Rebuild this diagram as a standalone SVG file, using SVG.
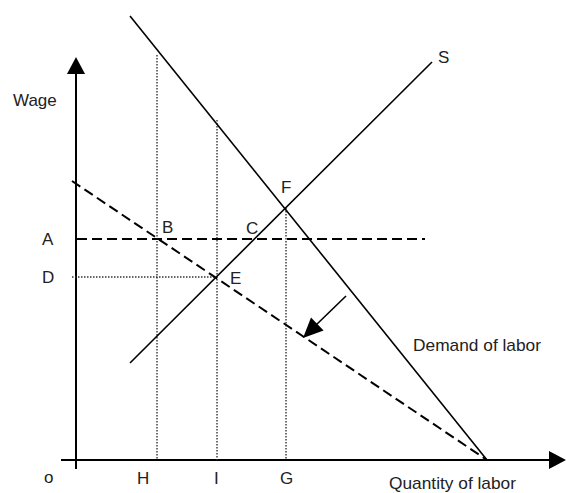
<svg xmlns="http://www.w3.org/2000/svg" width="566" height="493" viewBox="0 0 566 493">
<style>
text{font-family:"Liberation Sans",Arial,sans-serif;font-size:17px;fill:#222}
.axis{stroke:#000;stroke-width:2;fill:none}
.solid{stroke:#000;stroke-width:1.6;fill:none}
.dash{stroke:#000;stroke-width:2;stroke-dasharray:10 5;fill:none}
.dot{stroke:#333;stroke-width:1.4;stroke-dasharray:1.5 1.5;fill:none}
.head{fill:#000}
</style>
<rect width="566" height="493" fill="#fff"/>
<g id="connectors">
  <g id="axes">
    <line class="axis" x1="76" y1="70" x2="76" y2="469"/>
    <polygon class="head" points="76,57 67,74 85,74"/>
    <line class="axis" x1="61" y1="460" x2="551" y2="460"/>
    <polygon class="head" points="566,460 549,451 549,469"/>
  </g>
  <g id="guides">
    <line class="dot" x1="157" y1="55" x2="157" y2="460"/>
    <line class="dot" x1="217" y1="120" x2="217" y2="460"/>
    <line class="dot" x1="286" y1="208" x2="286" y2="460"/>
    <line class="dot" x1="72" y1="277" x2="217" y2="277"/>
    <line class="dash" x1="77" y1="239" x2="425" y2="239"/>
  </g>
  <g id="curves">
    <line class="solid" x1="130" y1="16" x2="487" y2="460"/>
    <line class="dash" x1="72" y1="181" x2="487" y2="460"/>
    <line class="solid" x1="130" y1="363" x2="432" y2="62"/>
  </g>
  <g id="shift-arrow">
    <line class="solid" x1="346" y1="296" x2="315" y2="326"/>
    <polygon class="head" points="303,338 311,317.6 323.6,330.4"/>
  </g>
</g>
<g id="labels">
  <text x="13" y="106">Wage</text>
  <text x="42" y="245">A</text>
  <text x="42" y="283">D</text>
  <text x="44" y="483">o</text>
  <text x="162" y="233">B</text>
  <text x="246" y="234">C</text>
  <text x="230" y="284">E</text>
  <text x="281" y="193">F</text>
  <text x="438" y="63">S</text>
  <text x="137" y="484">H</text>
  <text x="214" y="484">I</text>
  <text x="280" y="484">G</text>
  <text x="413" y="351" textLength="128" lengthAdjust="spacingAndGlyphs">Demand of labor</text>
  <text x="389" y="489" textLength="127" lengthAdjust="spacingAndGlyphs">Quantity of labor</text>
</g>
</svg>
